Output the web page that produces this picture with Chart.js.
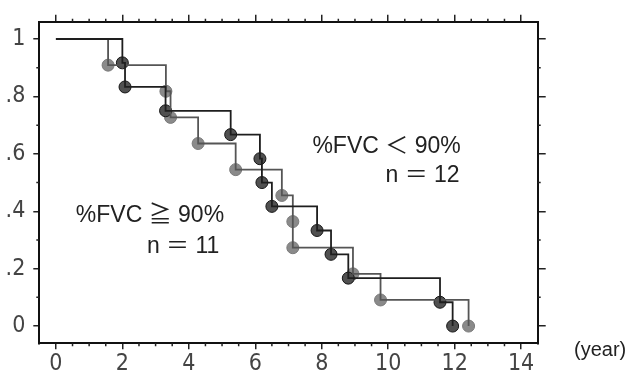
<!DOCTYPE html>
<html>
<head>
<meta charset="utf-8">
<script src="https://cdn.jsdelivr.net/npm/chart.js@4"></script>
<style>
  body { margin: 0; background: #fff; }
  #wrap { width: 629px; height: 380px; }
</style>
</head>
<body>
<div id="wrap"><canvas id="myChart"></canvas></div>
<script>
// survival data (time in years, survival after each event)
const darkTimes = [2.0, 2.08, 3.3, 5.26, 6.14, 6.2, 6.5, 7.86, 8.28, 8.8, 11.56, 11.94];
const darkSurv = [0.917, 0.833, 0.75, 0.667, 0.583, 0.5, 0.417, 0.333, 0.25, 0.167, 0.083, 0];
const lightTimes = [1.57, 3.31, 3.45, 4.28, 5.41, 6.8, 7.13, 7.13, 8.94, 9.77, 12.42];
const lightSurv = [0.909, 0.818, 0.727, 0.636, 0.545, 0.455, 0.364, 0.273, 0.182, 0.091, 0];

const xTicks = [0, 2, 4, 6, 8, 10, 12, 14];
const yTicks = [0, 0.2, 0.4, 0.6, 0.8, 1];
const yTickLabels = ['0', '.2', '.4', '.6', '.8', '1'];

const labelFont = { family: '"Liberation Sans Narrow", "DejaVu Sans Condensed", sans-serif', size: 23 };
const textFont = '23px "Liberation Sans", "Noto Sans CJK JP", sans-serif';

function stepData(times, surv) {
    const pts = [{ x: 0, y: 1 }];
    times.forEach((t, i) => pts.push({ x: t, y: surv[i] }));
    return pts;
}
function eventData(times, surv) {
    return times.map((t, i) => ({ x: t, y: surv[i] }));
}

// short minor ticks on all four sides + text annotations
const extras = {
    id: 'extras',
    afterDraw(chart) {
        const ctx = chart.ctx;
        const a = chart.chartArea;
        const xs = chart.scales.x, ys = chart.scales.y;
        ctx.save();
        ctx.strokeStyle = '#222';
        ctx.lineWidth = 1.5;
        ctx.beginPath();
        for (let v = 0.5; v < 14.5; v += 0.5) {
            if (v % 2 === 0) continue;
            const px = xs.getPixelForValue(v);
            ctx.moveTo(px, a.bottom); ctx.lineTo(px, a.bottom + 3);
            ctx.moveTo(px, a.top); ctx.lineTo(px, a.top - 3);
        }
        for (let k = 1; k < 10; k += 2) {
            const py = ys.getPixelForValue(k / 10);
            ctx.moveTo(a.left, py); ctx.lineTo(a.left - 3, py);
            ctx.moveTo(a.right, py); ctx.lineTo(a.right + 3, py);
        }
        ctx.stroke();

        ctx.fillStyle = '#222';
        ctx.font = textFont;
        ctx.textBaseline = 'alphabetic';
        ctx.textAlign = 'left';
        ctx.fillText('%FVC ＜ 90%', xs.getPixelForValue(7.72), ys.getPixelForValue(0.603));
        ctx.fillText('%FVC ≧ 90%', xs.getPixelForValue(0.6), ys.getPixelForValue(0.363));
        ctx.textAlign = 'right';
        ctx.fillText('n ＝ 12', xs.getPixelForValue(12.15), ys.getPixelForValue(0.502));
        ctx.fillText('n ＝ 11', xs.getPixelForValue(4.92), ys.getPixelForValue(0.253));
        ctx.textAlign = 'left';
        ctx.font = '20px "Liberation Sans", sans-serif';
        ctx.fillText('(year)', 574, 356);
        ctx.restore();
    }
};

const frame = { color: '#111', width: 2 };
const tickGrid = (len) => ({ drawOnChartArea: false, drawTicks: true, tickLength: len, color: '#222', lineWidth: 1.5 });

var ctx = document.getElementById('myChart').getContext('2d');
// eslint-disable-next-line no-undef
var chart = new Chart(ctx, {
    type: 'line',
    data: {
        datasets: [
            {
                label: '%FVC < 90%',
                data: stepData(darkTimes, darkSurv),
                stepped: 'before',
                borderColor: '#1e1e1e',
                borderWidth: 1.8,
                pointRadius: 0,
                fill: false
            },
            {
                label: '%FVC >= 90%',
                data: stepData(lightTimes, lightSurv),
                stepped: 'before',
                borderColor: '#555',
                borderWidth: 1.8,
                pointRadius: 0,
                fill: false
            },
            {
                type: 'scatter',
                label: 'dark events',
                data: eventData(darkTimes, darkSurv),
                pointRadius: 6,
                backgroundColor: '#505050',
                borderColor: '#151515',
                borderWidth: 1
            },
            {
                type: 'scatter',
                label: 'light events',
                data: eventData(lightTimes, lightSurv),
                pointRadius: 6,
                backgroundColor: '#8a8a8a',
                borderColor: '#7a7a7a',
                borderWidth: 1
            }
        ]
    },
    options: {
        responsive: true,
        maintainAspectRatio: false,
        animation: false,
        layout: { padding: 0 },
        plugins: { legend: { display: false }, tooltip: { enabled: false } },
        scales: {
            x: {
                type: 'linear', position: 'bottom', min: -0.5, max: 14.5,
                afterBuildTicks: s => { s.ticks = xTicks.map(v => ({ value: v })); },
                afterFit: s => { s.height = 36.7; },
                ticks: { font: labelFont, color: '#444', padding: 1, maxRotation: 0 },
                grid: tickGrid(6),
                border: frame
            },
            x2: {
                type: 'linear', position: 'top', min: -0.5, max: 14.5,
                afterBuildTicks: s => { s.ticks = xTicks.map(v => ({ value: v })); },
                afterFit: s => { s.height = 12.3; },
                ticks: { display: false },
                grid: tickGrid(7),
                border: frame
            },
            y: {
                type: 'linear', position: 'left', min: -0.06, max: 1.06,
                afterBuildTicks: s => { s.ticks = yTicks.map(v => ({ value: v })); },
                afterFit: s => { s.width = 39.3; },
                ticks: {
                    font: labelFont, color: '#444', padding: 8,
                    callback: (v) => yTickLabels[yTicks.indexOf(v)]
                },
                grid: tickGrid(6),
                border: frame
            },
            y2: {
                type: 'linear', position: 'right', min: -0.06, max: 1.06,
                afterBuildTicks: s => { s.ticks = yTicks.map(v => ({ value: v })); },
                afterFit: s => { s.width = 91.3; },
                ticks: { display: false },
                grid: tickGrid(8),
                border: frame
            }
        }
    },
    plugins: [extras]
});
</script>
</body>
</html>
